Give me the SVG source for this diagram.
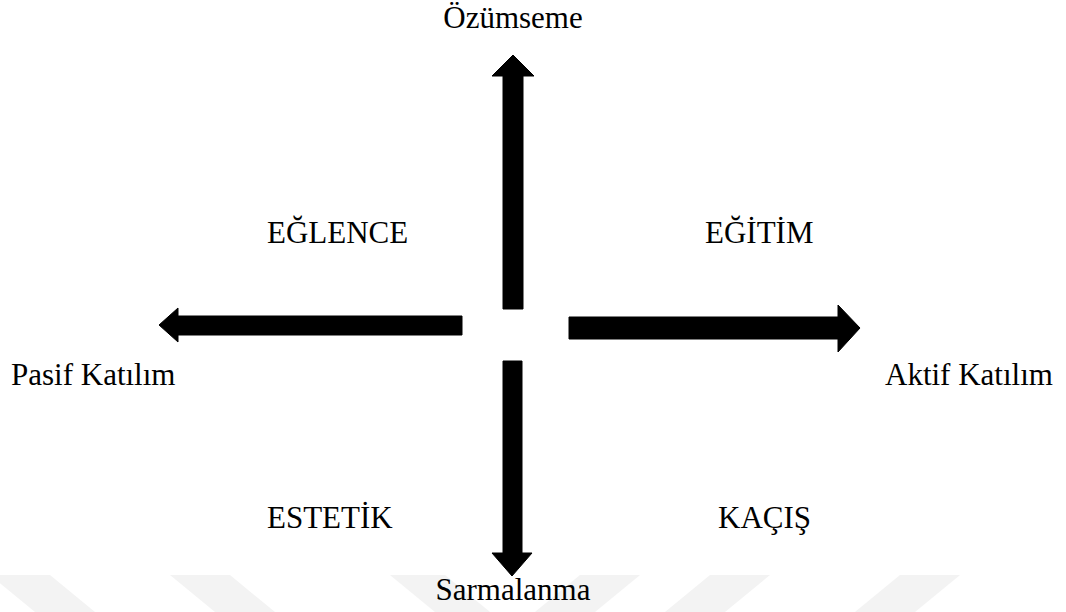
<svg xmlns="http://www.w3.org/2000/svg" width="1066" height="612" viewBox="0 0 1066 612">
<style>
.lbl{font-family:"Liberation Serif","Times New Roman",serif;font-size:31px;fill:#000}
.arr{fill:#000;stroke:#000;stroke-width:1}
.wm{fill:#f3f3f3}
</style>
<rect width="1066" height="612" fill="#fff"/>
<g id="watermark">
<polygon class="wm" points="-10,575 50,575 95,612 35,612"/>
<polygon class="wm" points="170,575 230,575 275,612 215,612"/>
<polygon class="wm" points="390,575 445,575 490,612 435,612"/>
<polygon class="wm" points="580,575 640,575 595,612 535,612"/>
<polygon class="wm" points="710,575 770,575 725,612 665,612"/>
<polygon class="wm" points="900,575 960,575 915,612 855,612"/>
</g>
<g id="connectors">
<polygon id="arrow-up" class="arr" points="503,309 503,76 492,76 513,55 534,76 523,76 523,309"/>
<polygon id="arrow-left" class="arr" stroke-linejoin="round" stroke-width="3" points="462,316 178,316 178,308 159,325 178,342 178,335 462,335"/>
<polygon id="arrow-right" class="arr" points="569,317 838,317 838,305 860,328 838,352 838,339 569,339"/>
<polygon id="arrow-down" class="arr" points="503,361 503,553 492,553 512,576 532,553 522,553 522,361"/>
</g>
<g id="node-ozumseme"><text class="lbl" x="513" y="28" text-anchor="middle">Özümseme</text></g>
<g id="node-sarmalanma"><text class="lbl" x="513" y="600" text-anchor="middle">Sarmalanma</text></g>
<g id="node-pasif"><text class="lbl" x="11" y="385">Pasif Katılım</text></g>
<g id="node-aktif"><text class="lbl" x="885" y="385">Aktif Katılım</text></g>
<g id="node-eglence"><text class="lbl" x="267" y="243">EĞLENCE</text></g>
<g id="node-egitim"><text class="lbl" x="705" y="243">EĞİTİM</text></g>
<g id="node-estetik"><text class="lbl" x="267" y="528">ESTETİK</text></g>
<g id="node-kacis"><text class="lbl" x="718" y="528">KAÇIŞ</text></g>
</svg>
